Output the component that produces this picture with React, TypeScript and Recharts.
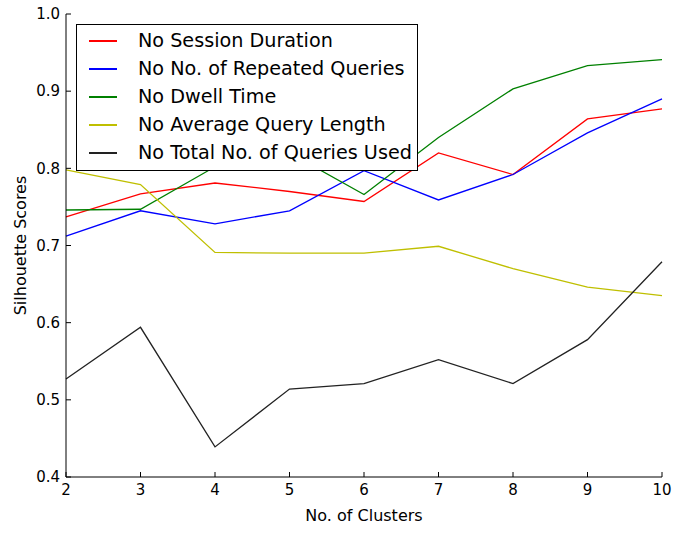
import { LineChart, Line, XAxis, YAxis, Legend } from "recharts";

const clusters = [2, 3, 4, 5, 6, 7, 8, 9, 10];
const sessionDuration = [0.737, 0.767, 0.781, 0.77, 0.757, 0.82, 0.792, 0.864, 0.877];
const repeatedQueries = [0.712, 0.745, 0.728, 0.745, 0.797, 0.759, 0.792, 0.846, 0.89];
const dwellTime = [0.746, 0.747, 0.802, 0.82, 0.766, 0.84, 0.903, 0.933, 0.941];
const avgQueryLength = [0.798, 0.779, 0.691, 0.69, 0.69, 0.699, 0.67, 0.646, 0.635];
const totalQueries = [0.527, 0.594, 0.439, 0.514, 0.521, 0.552, 0.521, 0.578, 0.679];

const xTicks = [2, 3, 4, 5, 6, 7, 8, 9, 10];
const yTicks = [0.4, 0.5, 0.6, 0.7, 0.8, 0.9, 1.0];

const series = [
  { key: "session", name: "No Session Duration", color: "#ff0000", values: sessionDuration },
  { key: "repeated", name: "No No. of Repeated Queries", color: "#0000ff", values: repeatedQueries },
  { key: "dwell", name: "No Dwell Time", color: "#008000", values: dwellTime },
  { key: "avgLen", name: "No Average Query Length", color: "#bfbf00", values: avgQueryLength },
  { key: "total", name: "No Total No. of Queries Used", color: "#222222", values: totalQueries },
];

const data = clusters.map((c, i) => {
  const row: Record<string, number> = { clusters: c };
  series.forEach((s) => (row[s.key] = s.values[i]));
  return row;
});

const font = "'DejaVu Sans', sans-serif";
const tickStyle = { fontSize: 15, fill: "#000", fontFamily: font };

// keep legend in plotting order (recharts sorts by name otherwise)
function LegendBox(props: any) {
  const order = series.map((s) => s.name);
  const items = [...(props.payload || [])].sort(
    (a: any, b: any) => order.indexOf(a.value) - order.indexOf(b.value)
  );
  return (
    <div
      style={{
        border: "1px solid #000",
        background: "#fff",
        width: 340,
        height: 143,
        boxSizing: "content-box",
        paddingTop: 2,
        fontFamily: font,
      }}
    >
      {items.map((it: any) => (
        <div key={it.value} style={{ display: "flex", alignItems: "center", height: 28 }}>
          <div style={{ width: 28, height: 1.3, background: it.color, marginLeft: 12 }} />
          <span style={{ marginLeft: 21, fontSize: 19.2, color: "#000", lineHeight: "28px" }}>{it.value}</span>
        </div>
      ))}
    </div>
  );
}

export default function App() {
  return (
    <div style={{ position: "absolute", left: 0, top: 0, width: 676, height: 533, background: "#fff" }}>
      <LineChart width={676} height={533} data={data} margin={{ top: 14, right: 14, left: 0, bottom: 0 }}>
        <XAxis
          dataKey="clusters"
          type="number"
          domain={[2, 10]}
          ticks={xTicks}
          height={56}
          tickSize={-5}
          tickMargin={12}
          stroke="#000"
          tick={tickStyle}
          interval={0}
          label={{ value: "No. of Clusters", position: "insideBottom", offset: 12, fill: "#000", fontSize: 16, fontFamily: font }}
        />
        <XAxis
          xAxisId="top"
          orientation="top"
          dataKey="clusters"
          type="number"
          domain={[2, 10]}
          ticks={xTicks}
          height={0}
          tickSize={-5}
          stroke="#000"
          tick={false}
          interval={0}
        />
        <YAxis
          type="number"
          domain={[0.4, 1.0]}
          ticks={yTicks}
          width={66}
          tickSize={-5}
          tickMargin={11}
          stroke="#000"
          tick={tickStyle}
          interval={0}
          tickFormatter={(v: number) => v.toFixed(1)}
          label={{
            value: "Silhouette Scores",
            angle: -90,
            position: "insideLeft",
            offset: 20,
            fill: "#000",
            fontSize: 16,
            fontFamily: font,
            style: { textAnchor: "middle" },
          }}
        />
        <YAxis
          yAxisId="right"
          orientation="right"
          type="number"
          domain={[0.4, 1.0]}
          ticks={yTicks}
          width={0}
          tickSize={-5}
          stroke="#000"
          tick={false}
          interval={0}
        />
        <Legend
          layout="vertical"
          align="center"
          verticalAlign="middle"
          content={<LegendBox />}
          wrapperStyle={{ top: 24, left: 76, width: 342, height: 146 }}
        />
        {series.map((s) => (
          <Line
            key={s.key}
            dataKey={s.key}
            name={s.name}
            stroke={s.color}
            strokeWidth={1.3}
            dot={false}
            type="linear"
            isAnimationActive={false}
          />
        ))}
      </LineChart>
    </div>
  );
}
